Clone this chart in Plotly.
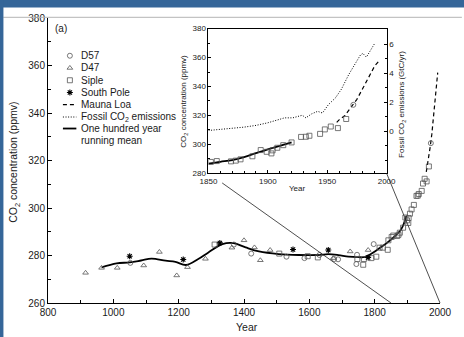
import plotly.graph_objects as go

# ---------------- data ----------------
d57_year = [1052, 1369, 1422, 1530, 1585, 1631, 1676, 1688, 1744, 1746, 1797, 1972]
d57_co2 = [276.9, 284.6, 280.8, 279.5, 278.9, 280.2, 278.5, 278.4, 276.4, 280.3, 284.8, 327.3]

d47_year = [915, 964, 1012, 1093, 1141, 1194, 1227, 1282, 1363, 1400, 1432, 1450, 1480, 1673, 1725, 1780]
d47_co2 = [272.7, 274.8, 274.8, 275.8, 281.5, 271.6, 275.1, 278.6, 283.3, 286.4, 283.4, 278.0, 282.3, 278.9, 281.7, 282.3]

siple_year = [1310, 1508, 1595, 1626, 1747, 1765, 1767, 1790, 1805, 1815, 1825, 1840, 1842,
              1852, 1857, 1869, 1873, 1877, 1887, 1894, 1899, 1903, 1904, 1908, 1913, 1920,
              1928, 1932, 1935, 1944, 1948, 1953, 1959, 1966]
siple_co2 = [284.6, 280.8, 279.7, 279.2, 278.5, 276.1, 278.5, 278.9, 279.5, 283.3, 283.3, 282.4, 286.4,
             287.8, 288.4, 288.2, 288.7, 289.6, 291.7, 296.0, 294.8, 293.7, 295.8, 297.6, 299.4, 301.3,
             305.1, 305.2, 305.9, 307.2, 310.3, 312.3, 311.2, 317.5]

south_pole_year = [1050, 1214, 1326, 1550, 1658, 1780]
south_pole_co2 = [279.7, 278.3, 285.3, 282.5, 282.3, 279.2]

mauna_loa_year = [1958, 1960, 1965, 1970, 1975, 1980, 1985, 1990, 1993]
mauna_loa_co2 = [315.2, 316.9, 320.0, 325.7, 331.1, 338.7, 346.0, 354.2, 357.0]

fossil_year = [1850, 1860, 1870, 1880, 1890, 1900, 1910, 1914, 1921, 1929, 1932, 1937, 1942,
               1946, 1951, 1957, 1962, 1968, 1973, 1978, 1980, 1983, 1990]
fossil_gtc = [0.05, 0.12, 0.20, 0.28, 0.40, 0.58, 0.82, 0.92, 0.92, 1.10, 0.92, 1.20, 1.37,
              1.25, 1.83, 2.30, 2.90, 3.88, 4.57, 5.25, 5.36, 5.10, 6.05]

mean_main_year = [964, 1010, 1050, 1085, 1117, 1160, 1190, 1223, 1260, 1290, 1334, 1368, 1405,
                  1446, 1506, 1567, 1628, 1658, 1689, 1720, 1750, 1770, 1811, 1851, 1881, 1897]
mean_main_co2 = [275.0, 276.7, 277.1, 277.9, 278.7, 277.8, 277.3, 276.0, 278.5, 281.2, 284.8, 285.2, 283.4,
                 281.7, 280.6, 280.2, 280.2, 280.6, 280.2, 279.5, 279.3, 279.4, 282.7, 286.8, 291.0, 296.6]

mean_inset_year = [1850, 1860, 1870, 1880, 1890, 1900, 1910, 1920]
mean_inset_co2 = [286.6, 287.9, 289.1, 291.2, 293.9, 296.5, 298.9, 301.3]

main_x_ticks = [800, 1000, 1200, 1400, 1600, 1800, 2000]
main_y_ticks = [260, 280, 300, 320, 340, 360, 380]
inset_x_ticks = [1850, 1900, 1950, 2000]
inset_y_ticks = [280, 300, 320, 340, 360, 380]
emis_ticks = [0, 2, 4, 6]

# ---------------- layout geometry ----------------
W, H = 464, 337
ML, MR, MT, MB = 48, 22, 16, 34
PW, PH = W - ML - MR, H - MT - MB


def X(px):
    return (px - ML) / PW


def Y(py):
    return (H - MB - py) / PH


MAIN_XR = [800, 2000]
MAIN_YR = [260, 380]
INSET_XR = [1850, 2000]
INSET_YR = [280, 380]
EMIS_R = [-2.894, 7.067]
INSET_XD = [X(209.3), X(388.3)]
INSET_YD = [Y(172.3), Y(26.7)]

FONT = "Liberation Sans, Arial, Helvetica, sans-serif"
TXT = "#1a1a1a"
PTC = "#555555"


def ix(v):
    return INSET_XD[0] + (v - INSET_XR[0]) / (INSET_XR[1] - INSET_XR[0]) * (INSET_XD[1] - INSET_XD[0])


def iy(v):
    return INSET_YD[0] + (v - INSET_YR[0]) / (INSET_YR[1] - INSET_YR[0]) * (INSET_YD[1] - INSET_YD[0])


def mx(v):
    return (v - MAIN_XR[0]) / (MAIN_XR[1] - MAIN_XR[0])


def my(v):
    return (v - MAIN_YR[0]) / (MAIN_YR[1] - MAIN_YR[0])


fig = go.Figure()
STAR = dict(symbol="asterisk-open", size=5, color="black", line=dict(width=1.1, color="black"))


def add_series(xa, ya):
    fig.add_trace(go.Scatter(x=mean_main_year if xa == "x" else mean_inset_year,
                             y=mean_main_co2 if xa == "x" else mean_inset_co2,
                             mode="lines", line=dict(color="black", width=1.8, shape="spline"),
                             xaxis=xa, yaxis=ya, showlegend=False, hoverinfo="skip"))
    fig.add_trace(go.Scatter(x=mauna_loa_year, y=mauna_loa_co2, mode="lines",
                             line=dict(color="black", width=1.2, dash="4px,3px"),
                             xaxis=xa, yaxis=ya, showlegend=False, cliponaxis=True))
    for xs, ys, sym in [(d57_year, d57_co2, "circle-open"),
                        (d47_year, d47_co2, "triangle-up-open"),
                        (siple_year, siple_co2, "square-open")]:
        fig.add_trace(go.Scatter(x=xs, y=ys, mode="markers",
                                 marker=dict(symbol=sym, size=5, color=PTC, line=dict(width=0.8, color=PTC)),
                                 xaxis=xa, yaxis=ya, showlegend=False, cliponaxis=True))
    fig.add_trace(go.Scatter(x=south_pole_year, y=south_pole_co2, mode="markers", marker=STAR,
                             xaxis=xa, yaxis=ya, showlegend=False, cliponaxis=True))


add_series("x", "y")
add_series("x2", "y2")

fig.add_trace(go.Scatter(x=fossil_year, y=fossil_gtc, mode="lines",
                         line=dict(color="black", width=1, dash="1px,1.6px"),
                         xaxis="x2", yaxis="y3", showlegend=False))

# legend glyphs drawn on a hidden pixel-space overlay axis
gx, gx0, gx1 = 70, 63, 76.5
for yy, sym in [(54, "circle-open"), (66.3, "triangle-up-open"), (78.7, "square-open")]:
    fig.add_trace(go.Scatter(x=[gx], y=[yy], mode="markers",
                             marker=dict(symbol=sym, size=5, color=PTC, line=dict(width=0.8, color=PTC)),
                             xaxis="x4", yaxis="y4", showlegend=False))
fig.add_trace(go.Scatter(x=[gx], y=[91], mode="markers", marker=STAR,
                         xaxis="x4", yaxis="y4", showlegend=False))
for yy, dash, wd in [(103.3, "4px,3px", 1.2), (115.7, "1px,1.6px", 1), (127.3, "solid", 1.8)]:
    fig.add_trace(go.Scatter(x=[gx0, gx1], y=[yy, yy], mode="lines",
                             line=dict(color="black", width=wd, dash=dash),
                             xaxis="x4", yaxis="y4", showlegend=False))

tickfont_main = dict(family=FONT, size=10, color=TXT)
tickfont_inset = dict(family=FONT, size=8, color=TXT)
common = dict(showgrid=False, zeroline=False, showline=True, linecolor="black", linewidth=1,
              ticks="inside", tickcolor="black")

fig.update_layout(
    width=W, height=H, margin=dict(l=ML, r=MR, t=MT, b=MB),
    paper_bgcolor="white", plot_bgcolor="rgba(0,0,0,0)", showlegend=False,
    xaxis=dict(domain=[0, 1], range=MAIN_XR, anchor="y", tickvals=main_x_ticks, ticklen=4,
               minor=dict(dtick=100, tick0=800, ticks="inside", ticklen=3, tickcolor="black"),
               tickfont=tickfont_main, **common),
    yaxis=dict(domain=[0, 1], range=MAIN_YR, anchor="x", tickvals=main_y_ticks, ticklen=4,
               minor=dict(dtick=10, tick0=260, ticks="inside", ticklen=3, tickcolor="black"),
               tickfont=tickfont_main, **common),
    xaxis2=dict(domain=INSET_XD, range=INSET_XR, anchor="y2", tickvals=inset_x_ticks, ticklen=3,
                minor=dict(dtick=10, tick0=1850, ticks="inside", ticklen=2, tickcolor="black"),
                tickfont=tickfont_inset, mirror=True, **common),
    yaxis2=dict(domain=INSET_YD, range=INSET_YR, anchor="x2", tickvals=inset_y_ticks, ticklen=3,
                minor=dict(dtick=10, tick0=280, ticks="inside", ticklen=2, tickcolor="black"),
                tickfont=tickfont_inset, mirror=True, **common),
    yaxis3=dict(domain=INSET_YD, range=EMIS_R, anchor="x2", overlaying="y2", side="right",
                tickvals=emis_ticks, ticklen=3,
                minor=dict(dtick=1, tick0=0, ticks="inside", ticklen=2, tickcolor="black"),
                tickfont=tickfont_inset, **common),
    xaxis4=dict(domain=[0, 1], range=[ML, W - MR], anchor="y4", visible=False, overlaying="x"),
    yaxis4=dict(domain=[0, 1], range=[H - MB, MT], anchor="x4", visible=False, overlaying="y"),
)

# inset white background
shapes = [dict(type="rect", xref="paper", yref="paper", x0=INSET_XD[0], x1=INSET_XD[1],
               y0=INSET_YD[0], y1=INSET_YD[1], fillcolor="white", line=dict(width=0), layer="below")]

# connector lines inset -> main axis
p0 = (ix(1850), iy(280))
p1 = (mx(1850), my(260))
t = 0.075
shapes.append(dict(type="line", xref="paper", yref="paper",
                   x0=p0[0] + t * (p1[0] - p0[0]), y0=p0[1] + t * (p1[1] - p0[1]),
                   x1=p1[0], y1=p1[1], line=dict(color="#222", width=0.8)))
shapes.append(dict(type="line", xref="paper", yref="paper",
                   x0=ix(2000), y0=iy(280), x1=mx(2000), y1=my(260),
                   line=dict(color="#222", width=0.8)))
# faint top rule of the scan
shapes.append(dict(type="line", xref="paper", yref="paper", x0=X(3), x1=X(W), y0=Y(15.3), y1=Y(15.3),
                   line=dict(color="#b5b5b5", width=1)))
# blue frame of the slide
BLUE = "#356699"
shapes.append(dict(type="rect", xref="paper", yref="paper", x0=X(-5), x1=X(W + 5), y0=Y(5.5), y1=Y(-5),
                   fillcolor=BLUE, line=dict(width=0)))
shapes.append(dict(type="rect", xref="paper", yref="paper", x0=X(-5), x1=X(3.2), y0=Y(H + 5), y1=Y(-5),
                   fillcolor=BLUE, line=dict(width=0)))
fig.update_layout(shapes=shapes)

ann = []


def txt(text, px, py, size, angle=0, xanchor="center"):
    ann.append(dict(text=text, x=X(px), y=Y(py), xref="paper", yref="paper", showarrow=False,
                    xanchor=xanchor, yanchor="middle", textangle=angle,
                    font=dict(family=FONT, size=size, color=TXT)))


txt("CO<sub>2</sub> concentration (ppmv)", 14, 161.7, 10.5, -90)
txt("Year", 247.7, 327.5, 10.5)
txt("CO<sub>2</sub> concentration (ppmv)", 185, 100, 8, -90)
txt("Year", 298.7, 187.7, 8)
txt("Fossil CO<sub>2</sub> emissions (GtC/yr)", 404.3, 103, 8, -90)
txt("(a)", 60.7, 26.7, 10)
for label, yy in [("D57", 54), ("D47", 66.3), ("Siple", 78.7), ("South Pole", 91),
                  ("Mauna Loa", 103.3), ("Fossil CO<sub>2</sub> emissions", 115.7),
                  ("One hundred year", 127.3), ("running mean", 139.3)]:
    txt(label, 79, yy, 10, 0, "left")
fig.update_layout(annotations=ann)

fig.write_html("out.html", config={"displayModeBar": False},
               post_script="document.body.style.margin='0px';")
